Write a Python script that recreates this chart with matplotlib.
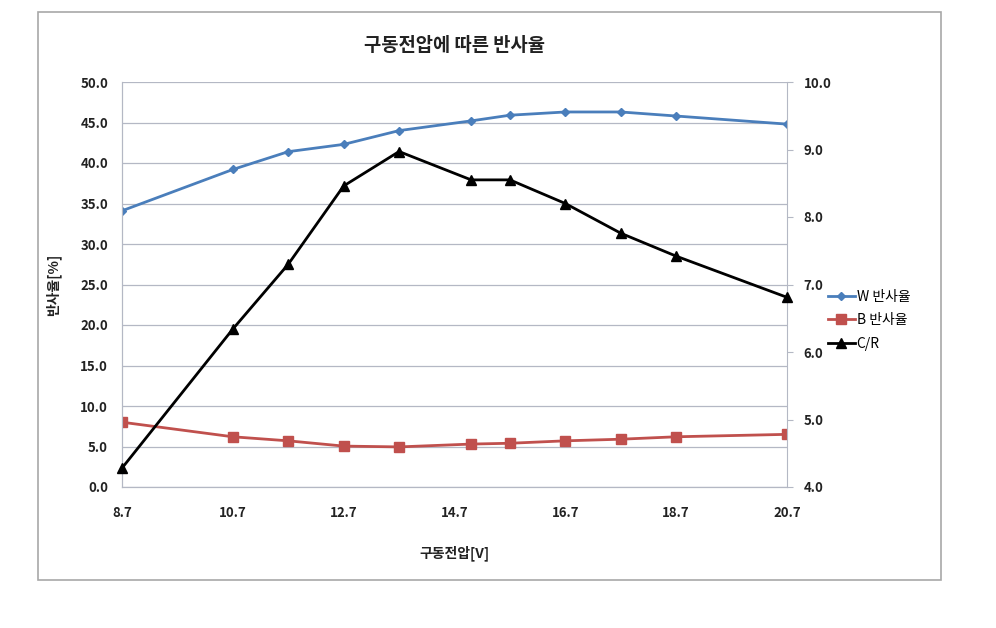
import matplotlib
matplotlib.use("Agg")
from matplotlib import pyplot as plt
from matplotlib.patches import Rectangle

plt.rcParams['font.family'] = ['Noto Sans CJK KR', 'DejaVu Sans']

# data
voltage = [8.7, 10.7, 11.7, 12.7, 13.7, 15.0, 15.7, 16.7, 17.7, 18.7, 20.7]
w_refl = [34.1, 39.2, 41.4, 42.3, 44.0, 45.2, 45.9, 46.3, 46.3, 45.8, 44.8]
b_refl = [8.0, 6.2, 5.7, 5.05, 4.95, 5.3, 5.4, 5.7, 5.9, 6.2, 6.5]
cr = [4.28, 6.34, 7.30, 8.46, 8.97, 8.55, 8.55, 8.20, 7.76, 7.42, 6.81]

x_ticks = [8.7, 10.7, 12.7, 14.7, 16.7, 18.7, 20.7]
left_ticks = [0, 5, 10, 15, 20, 25, 30, 35, 40, 45, 50]
right_ticks = [4, 5, 6, 7, 8, 9, 10]

blue = '#4a7ebb'
red = '#c0504d'
grid_c = '#b4b8c4'
txt_c = '#222222'

fig = plt.figure(figsize=(9.96, 6.28), dpi=100)
fig.patches.append(Rectangle((38/996, 1 - 580/628), (941-38)/996, (580-12)/628,
                             transform=fig.transFigure, fill=False,
                             edgecolor='#a8a8a8', linewidth=1.2))

ax = fig.add_axes([122/996, 1 - 487/628, (787-122)/996, (487-82)/628])
ax2 = ax.twinx()

ax.set_xlim(8.7, 20.7)
ax.set_ylim(0, 50)
ax2.set_ylim(4, 10)

ax.set_yticks(left_ticks)
ax.set_yticklabels(['%.1f' % v for v in left_ticks])
ax2.set_yticks(right_ticks)
ax2.set_yticklabels(['%.1f' % v for v in right_ticks])
ax.set_xticks(x_ticks)
ax.set_xticklabels(['%.1f' % v for v in x_ticks])

ax.grid(axis='y', color=grid_c, linewidth=0.9)
ax.set_axisbelow(True)

for a in (ax, ax2):
    for s in a.spines.values():
        s.set_color(grid_c)
    a.spines['top'].set_visible(False)
ax.spines['right'].set_visible(False)

ax.tick_params(axis='y', length=0, pad=10, labelsize=9.5, labelcolor=txt_c)
ax.tick_params(axis='x', length=0, pad=14, labelsize=9.5, labelcolor=txt_c)
ax2.tick_params(axis='y', length=4, color=grid_c, pad=8, labelsize=9.5, labelcolor=txt_c)
for lab in ax.get_xticklabels() + ax.get_yticklabels() + ax2.get_yticklabels():
    lab.set_fontweight('bold')

l1, = ax.plot(voltage, w_refl, color=blue, linewidth=2, marker='D', markersize=4.5,
              label='W 반사율', zorder=3)
l2, = ax.plot(voltage, b_refl, color=red, linewidth=2, marker='s', markersize=7,
              label='B 반사율', zorder=3)
l3, = ax2.plot(voltage, cr, color='black', linewidth=2, marker='^', markersize=7,
               label='C/R', zorder=3, clip_on=False)

ax.set_title('구동전압에 따른 반사율', fontsize=13.5, fontweight='bold', pad=22, color=txt_c)
ax.set_xlabel('구동전압[V]', fontsize=10, fontweight='bold', labelpad=18, color=txt_c)
ax.set_ylabel('반사율[%]', fontsize=10, fontweight='bold', labelpad=14, color=txt_c)

fig.legend(handles=[l1, l2, l3], loc='upper left', bbox_to_anchor=(822/996, 1 - 284/628),
           frameon=False, fontsize=10, handlelength=2.0, handletextpad=0.1,
           labelspacing=0.7, borderaxespad=0)

fig.savefig('out.png', dpi=100)
